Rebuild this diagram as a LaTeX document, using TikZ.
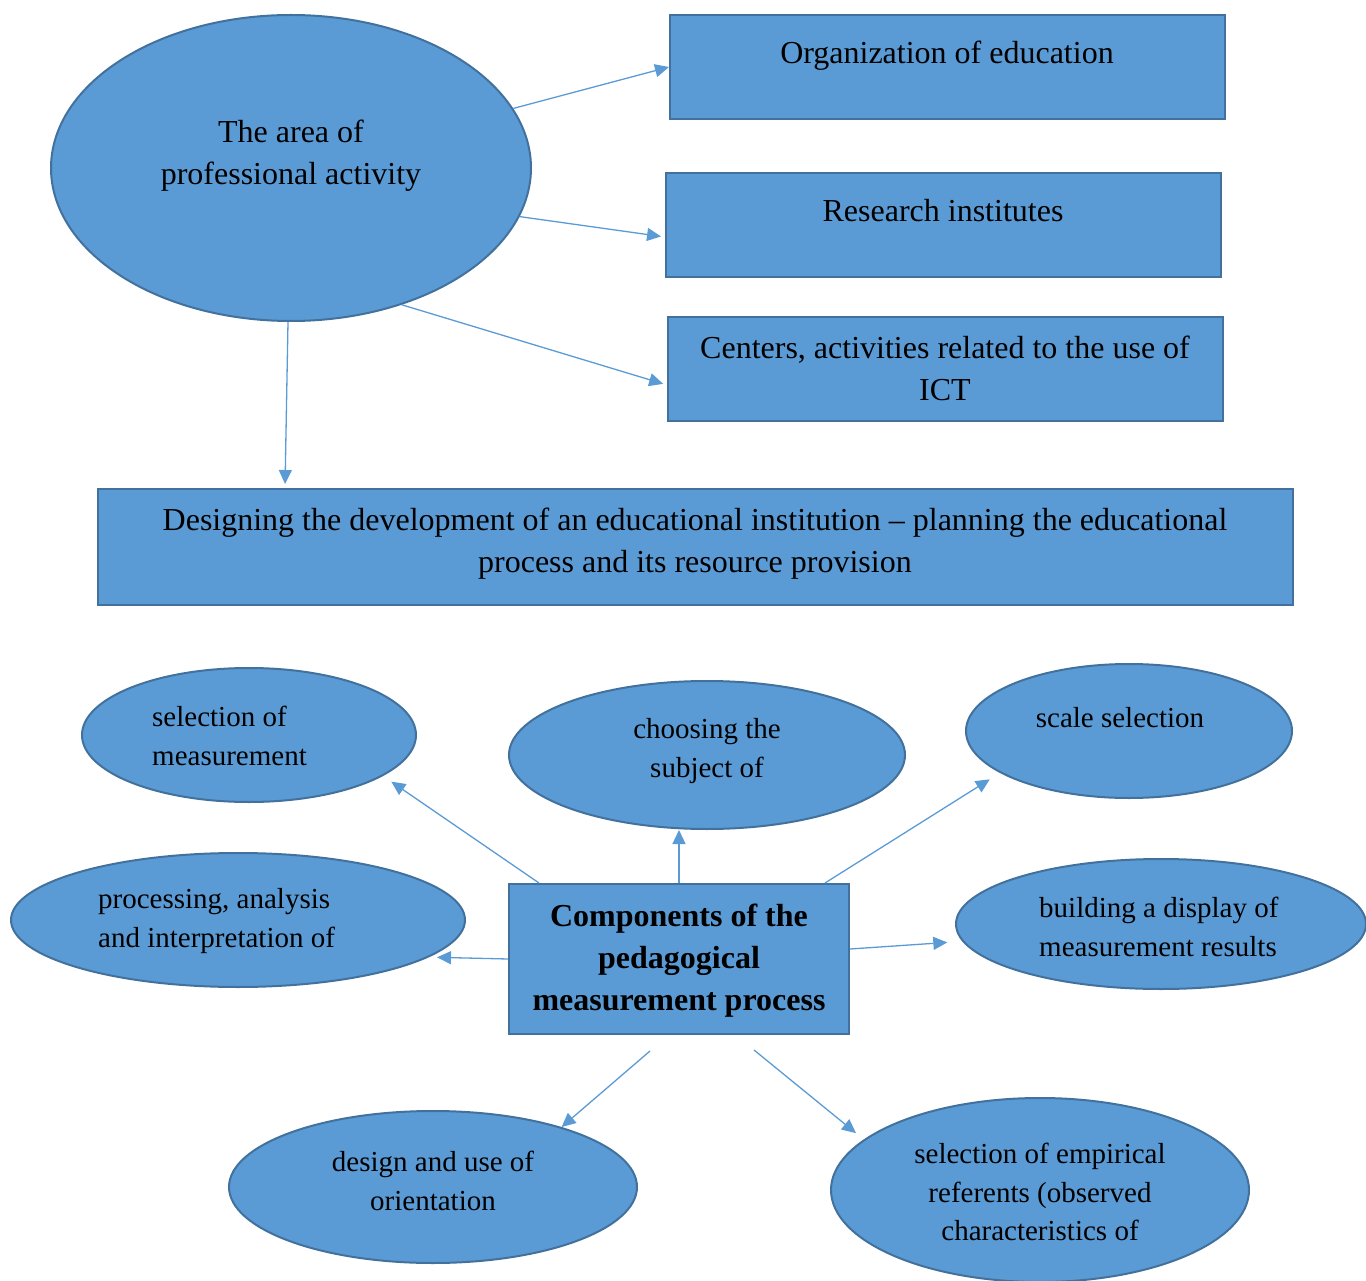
\documentclass[tikz,border=0pt]{standalone}
\usepackage{fontspec}
\setmainfont{Liberation Serif}
\usetikzlibrary{shapes.geometric,arrows.meta}
\definecolor{boxblue}{HTML}{5B9BD5}
\definecolor{edgeblue}{HTML}{41719C}
\begin{document}
\begin{tikzpicture}[x=1pt,y=-1pt,
	oval/.style={ellipse,draw=edgeblue,fill=boxblue,line width=2pt,inner sep=0pt},
	box/.style={rectangle,draw=edgeblue,fill=boxblue,line width=2pt,inner sep=0pt},
	txt/.style={inner sep=0pt,align=center,font=\fontsize{32}{42}\selectfont},
	small/.style={inner sep=0pt,align=center,font=\fontsize{29}{38.5}\selectfont},
	arr/.style={draw=boxblue,line width=1.3pt,-{Triangle[length=14pt,width=13pt]}}]
		
		\useasboundingbox (0,0) rectangle (1366,1281);
		
		% area and its places
		\node[oval,minimum width=480,minimum height=306] (area) at (291,168) {};
		\node[box,minimum width=555,minimum height=104] (org) at (947.5,67) {};
		\node[box,minimum width=555,minimum height=104] (res) at (943.5,225) {};
		\node[box,minimum width=555,minimum height=104] (ctr) at (945.5,369) {};
		\node[box,minimum width=1195,minimum height=116] (des) at (695.5,547) {};
		
		\node[txt] (areatxt) at (291,156) {The area of\\professional activity};
		\node[txt] (orgtxt) at (947,56) {Organization of education};
		\node[txt] (restxt) at (943,211) {Research institutes};
		\node[txt] (ctrtxt) at (945,368) {Centers, activities related to the use of\\ICT};
		\node[txt] (destxt) at (695,544) {Designing the development of an educational institution -- planning the educational\\process and its resource provision};
		
		\draw[arr] (area.15) -- (org.west);
		\draw[arr,shorten >=4pt] (area.-12) -- ([yshift=-12pt]res.west);
		\draw[arr,shorten >=4pt] (area.-51) -- ([yshift=-16pt]ctr.west);
		\draw[arr,shorten >=4pt] ([xshift=-3pt]area.south) -- ([xshift=188pt]des.north west);
		
		% components
		\node[box,minimum width=340,minimum height=150] (comp) at (679,959) {};
		\node[oval,minimum width=334,minimum height=134] (sel) at (249,735) {};
		\node[oval,minimum width=396,minimum height=148] (subj) at (707,755) {};
		\node[oval,minimum width=326,minimum height=134] (scale) at (1129,731) {};
		\node[oval,minimum width=454,minimum height=134] (proc) at (238,920) {};
		\node[oval,minimum width=410,minimum height=130] (disp) at (1161,924) {};
		\node[oval,minimum width=408,minimum height=152] (orient) at (433,1187) {};
		\node[oval,minimum width=418,minimum height=184] (emp) at (1040,1190) {};
		
		\node[txt,font=\fontsize{32}{42}\selectfont\bfseries] (comptxt) at (679,961) {Components of the\\pedagogical\\measurement process};
		\node[small,anchor=west,align=left] (seltxt) at (152,736) {selection of\\measurement};
		\node[small] (subjtxt) at (707,751) {choosing the\\subject of};
		\node[small] (scaletxt) at (1120,718) {scale selection};
		\node[small,anchor=west,align=left] (proctxt) at (98,921) {processing, analysis\\and interpretation of};
		\node[small,anchor=west,align=left] (disptxt) at (1039,927) {building a display of\\measurement results};
		\node[small] (orienttxt) at (433,1181) {design and use of\\orientation};
		\node[small] (emptxt) at (1040,1192) {selection of empirical\\referents (observed\\characteristics of};
		
		\draw[arr,shorten >=10pt] ([xshift=31pt]comp.north west) -- (sel.-17);
		\draw[arr] (comp.north) -- (comp.north |- subj.south);
		\draw[arr,shorten >=12pt] ([xshift=-25pt]comp.north east) -- (scale.198);
		\draw[arr,shorten >=8pt] (comp.west) -- (proc.-11);
		\draw[arr,shorten >=15pt] ([yshift=10pt]comp.east) -- (disp.185);
		\draw[arr] ([xshift=-29pt,yshift=-16pt]comp.south) -- (orient.25);
		\draw[arr,shorten >=10pt] ([xshift=75pt,yshift=-15pt]comp.south) -- (emp.164);
		
	\end{tikzpicture}
\end{document}
